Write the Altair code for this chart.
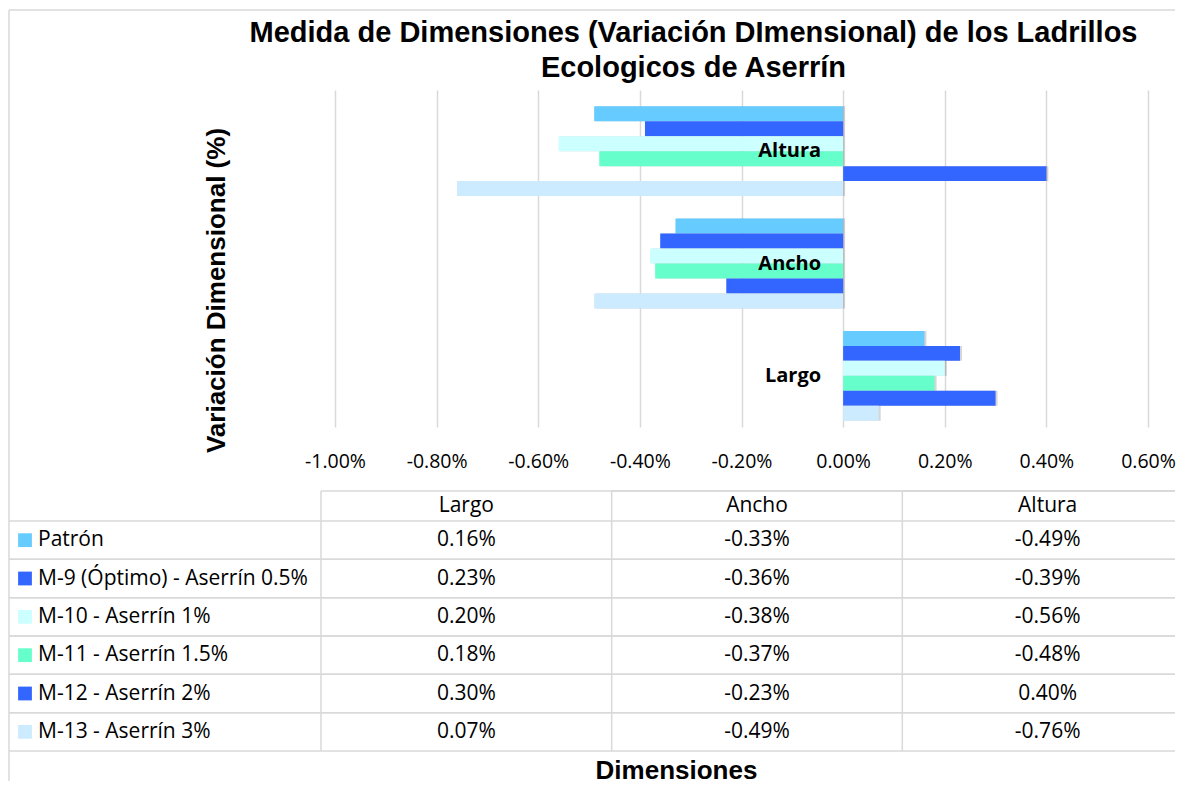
import altair as alt
import pandas as pd

# ---------------- data ----------------
SERIES = [
    "Patrón",
    "M-9 (Óptimo) - Aserrín 0.5%",
    "M-10 - Aserrín 1%",
    "M-11 - Aserrín 1.5%",
    "M-12 - Aserrín 2%",
    "M-13 - Aserrín 3%",
]
COLORS = ["#66CCFF", "#3366FF", "#CCFFFF", "#66FFCC", "#3366FF", "#CCEBFF"]
DIMENSIONS = ["Largo", "Ancho", "Altura"]
LARGO = [0.16, 0.23, 0.20, 0.18, 0.30, 0.07]
ANCHO = [-0.33, -0.36, -0.38, -0.37, -0.23, -0.49]
ALTURA = [-0.49, -0.39, -0.56, -0.48, 0.40, -0.76]
X_TICKS = [-1.0, -0.8, -0.6, -0.4, -0.2, 0.0, 0.2, 0.4, 0.6]
TITLE_1 = "Medida de Dimensiones (Variación DImensional) de los Ladrillos"
TITLE_2 = "Ecologicos de Aserrín"
Y_TITLE = "Variación Dimensional (%)"
X_TITLE = "Dimensiones"

rows = []
for dim, vals in zip(DIMENSIONS, [LARGO, ANCHO, ALTURA]):
    for s, v in zip(SERIES, vals):
        rows.append({"dim": dim, "serie": s, "pct": v})
df = pd.DataFrame(rows)
dims_df = pd.DataFrame({"dim": DIMENSIONS})
series_df = pd.DataFrame({"serie": SERIES})
one = pd.DataFrame({"k": [0]})

W = 1166
HA = 340
GRID = "#D9D9D9"
MINUS_FIX = "replace({v}, '\u2212', '-')"

color = alt.Color("serie:N", sort=SERIES,
                  scale=alt.Scale(domain=SERIES, range=COLORS), legend=None)

# ---------------- panel A: bars ----------------
xA_axis = alt.Axis(values=[t / 100 for t in X_TICKS], format=".2%",
                   labelExpr=MINUS_FIX.format(v="datum.label"),
                   grid=True, gridColor=GRID, gridWidth=1.5, ticks=False,
                   domain=False, labelFont="Open Sans", labelFontSize=19.5,
                   labelColor="#000000", labelPadding=21, labelFlush=False,
                   labelOverlap=False, title=None)
xA = alt.X("frac:Q", scale=alt.Scale(domain=[-0.01, 0.006], range=[326, 1139],
                                     nice=False, zero=False), axis=xA_axis)
yA = alt.Y("dim:N", sort=["Altura", "Ancho", "Largo"],
           scale=alt.Scale(domain=["Altura", "Ancho", "Largo"], range=[4, HA + 1],
                           paddingInner=0.2, paddingOuter=0.1),
           axis=alt.Axis(labels=False, ticks=False, domain=False, grid=False,
                         title=Y_TITLE, titleX=207, titleY=199, titleAngle=270,
                         titleAlign="center", titleBaseline="middle",
                         titleFont="Liberation Sans", titleFontSize=26,
                         titleFontWeight="bold", titleColor="#000000"))
yOff = alt.YOffset("serie:N", sort=SERIES,
                   scale=alt.Scale(domain=SERIES, paddingInner=0, paddingOuter=0))

base = alt.Chart(df).transform_calculate(frac="datum.pct / 100")

shadow = base.mark_bar(color="#000000", opacity=0.16, xOffset=2, x2Offset=2,
                       yOffset=3, y2Offset=3).encode(x=xA, y=yA, yOffset=yOff)
bars = base.mark_bar().encode(x=xA, y=yA, yOffset=yOff, color=color)

cat_labels = alt.Chart(dims_df).mark_text(
    align="right", baseline="middle", dx=-22, font="Open Sans",
    fontWeight="bold", fontSize=20, color="#000000"
).encode(x=alt.datum(0), y=yA, text="dim:N")

title_style = dict(font="Liberation Sans", fontSize=29, fontWeight="bold",
                   align="center", baseline="middle", color="#000000")
title1 = alt.Chart(one).mark_text(text=TITLE_1, **title_style).encode(
    x=alt.value(684.5), y=alt.value(-58))
title2 = alt.Chart(one).mark_text(text=TITLE_2, **title_style).encode(
    x=alt.value(684.5), y=alt.value(-23))

top_border = alt.Chart(one).mark_rule(color=GRID, strokeWidth=1.5).encode(
    x=alt.value(0), x2=alt.value(W), y=alt.value(-81))
left_border_a = alt.Chart(one).mark_rule(color=GRID, strokeWidth=1.5).encode(
    x=alt.value(0), y=alt.value(-81), y2=alt.value(HA + 60))

panelA = alt.layer(top_border, left_border_a, shadow, bars, cat_labels,
                   title1, title2).properties(width=W, height=HA)

# ---------------- panel B: data table ----------------
HB = 262
xB_scale = alt.Scale(domain=DIMENSIONS, range=[312, 1184], paddingInner=0, paddingOuter=0)
xB_axis = alt.Axis(labels=False, ticks=False, domain=False, grid=False,
                   title=X_TITLE, titleX=667, titleY=17, titleAlign="center",
                   titleBaseline="middle", titleFont="Liberation Sans",
                   titleFontSize=26, titleFontWeight="bold", titleColor="#000000")
yB_scale = alt.Scale(domain=SERIES, range=[30, 260], paddingInner=0, paddingOuter=0)


def xB(bp=0.5):
    return alt.X("dim:N", sort=DIMENSIONS, scale=xB_scale, axis=xB_axis, bandPosition=bp)


def yB(bp=0.5):
    return alt.Y("serie:N", sort=SERIES, scale=yB_scale, axis=None, bandPosition=bp)


TXT = dict(font="Open Sans", fontSize=21, color="#000000", baseline="middle")

values = alt.Chart(df).transform_calculate(
    label=MINUS_FIX.format(v="format(datum.pct / 100, '.2%')")
).mark_text(**TXT).encode(x=xB(), y=yB(), text="label:N")

header = alt.Chart(dims_df).mark_text(**TXT).encode(
    x=xB(), y=alt.value(15), text="dim:N")

row_labels = alt.Chart(series_df).mark_text(align="left", **TXT).encode(
    x=alt.value(29), y=yB(), text="serie:N")

swatches = alt.Chart(series_df).mark_square(size=190, opacity=1).encode(
    x=alt.value(16), y=yB(), color=color)

hlines_top = alt.Chart(series_df).mark_rule(color=GRID, strokeWidth=1.5).encode(
    y=yB(0), x=alt.value(0), x2=alt.value(W))
hlines_bot = alt.Chart(series_df).mark_rule(color=GRID, strokeWidth=1.5).encode(
    y=yB(1), x=alt.value(0), x2=alt.value(W))
header_line = alt.Chart(dims_df).mark_rule(color=GRID, strokeWidth=1.5).encode(
    x=xB(0), x2=alt.value(W), y=alt.value(0))
vlines = alt.Chart(dims_df).mark_rule(color=GRID, strokeWidth=1.5).encode(
    x=xB(0), y=alt.value(0), y2=alt.value(260))
left_border_b = alt.Chart(one).mark_rule(color=GRID, strokeWidth=1.5).encode(
    x=alt.value(0), y=alt.value(0), y2=alt.value(290))

panelB = alt.layer(hlines_top, hlines_bot, header_line, vlines, left_border_b,
                   swatches, row_labels, header, values).properties(width=W, height=HB)

chart = alt.vconcat(panelA, panelB, spacing=60, bounds="flush").properties(
    padding={"left": 0, "top": 1, "right": 0, "bottom": 0},
    background="white",
).configure_view(stroke=None)

chart.save("out.html", embed_options={"renderer": "svg", "actions": False})
